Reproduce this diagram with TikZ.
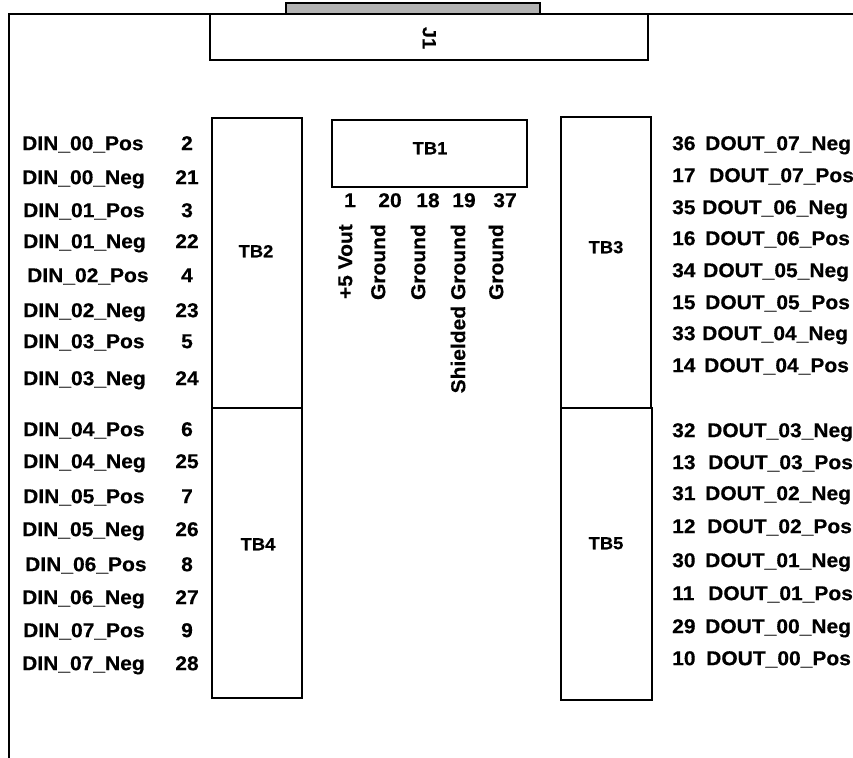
\documentclass[tikz,border=0pt]{standalone}
\usepackage{fontspec}
\setmainfont{Liberation Sans}[FakeStretch=1.05]
\newfontfamily\heavy{Liberation Sans Bold}[FakeStretch=1.05, FakeBold=0.4]
\begin{document}
\begin{tikzpicture}[x=1pt,y=-1pt,
  box/.style={draw, line width=1.3pt, inner sep=0pt, outer sep=0pt, anchor=north west},
  lbl/.style={inner sep=0pt, font=\heavy\fontsize{20}{22}\selectfont, text height=14.3pt, text depth=0pt},
  tbl/.style={inner sep=0pt, font=\heavy\fontsize{17.5}{19}\selectfont, text height=12.5pt, text depth=0pt},
]
\useasboundingbox (0,0) rectangle (853,757);
% frame
\coordinate (fr1) at (853,14);
\coordinate (fr2) at (9,14);
\coordinate (fr3) at (9,760);
\draw[line width=1.3pt] (fr1) -- (fr2) -- (fr3);
% connector and boxes
\node[box, fill=black!30, minimum width=254pt, minimum height=11pt] (gray) at (286,3) {};
\node[box, minimum width=438pt, minimum height=46pt] (j1) at (210,14) {};
\node[tbl, rotate=-90, font=\heavy\fontsize{19}{21}\selectfont] (j1t) at (429,38) {J1};
\node[box, minimum width=195pt, minimum height=67pt] (tb1) at (332,120) {};
\node[tbl] (tb1t) at (430,148) {TB1};
\node[box, minimum width=90pt, minimum height=290pt] (tb2) at (212,118) {};
\node[tbl] (tb2t) at (256,251) {TB2};
\node[box, minimum width=90pt, minimum height=290pt] (tb4) at (212,408) {};
\node[tbl] (tb4t) at (258,544) {TB4};
\node[box, minimum width=90pt, minimum height=291pt] (tb3) at (561,117) {};
\node[tbl] (tb3t) at (606,247) {TB3};
\node[box, minimum width=91pt, minimum height=292pt] (tb5) at (561,408) {};
\node[tbl] (tb5t) at (606,543) {TB5};
% TB1 pins
\node[lbl] (p1) at (350,200) {1};
\node[lbl] (p20) at (390,200) {20};
\node[lbl] (p18) at (428,200) {18};
\node[lbl] (p19) at (464,200) {19};
\node[lbl] (p37) at (505,200) {37};
\node[lbl, rotate=90, anchor=east] (s1) at (345,224) {+5 Vout};
\node[lbl, rotate=90, anchor=east] (s20) at (378,224) {Ground};
\node[lbl, rotate=90, anchor=east] (s18) at (418,224) {Ground};
\node[lbl, rotate=90, anchor=east] (s19) at (458,224) {Shielded Ground};
\node[lbl, rotate=90, anchor=east] (s37) at (496,224) {Ground};
% left labels
\foreach \n/\x/\y/\t/\p in {a/22/143/DIN\_00\_Pos/2, b/22/177/DIN\_00\_Neg/21, c/23/210/DIN\_01\_Pos/3, d/23/241/DIN\_01\_Neg/22,
  e/27/275/DIN\_02\_Pos/4, f/23/310/DIN\_02\_Neg/23, g/23/341/DIN\_03\_Pos/5, h/23/378/DIN\_03\_Neg/24,
  i/23/429/DIN\_04\_Pos/6, j/23/461/DIN\_04\_Neg/25, k/23/496/DIN\_05\_Pos/7, l/22/529/DIN\_05\_Neg/26,
  m/25/564/DIN\_06\_Pos/8, n/22/597/DIN\_06\_Neg/27, o/23/630/DIN\_07\_Pos/9, p/22/663/DIN\_07\_Neg/28}
{
  \node[lbl, anchor=west] (L\n) at (\x,\y) {\t};
  \node[lbl] (N\n) at (187,\y) {\p};
}
% right labels
\foreach \n/\x/\y/\t/\p in {a/705/143/DOUT\_07\_Neg/36, b/709/175/DOUT\_07\_Pos/17, c/702/207/DOUT\_06\_Neg/35, d/705/238/DOUT\_06\_Pos/16,
  e/703/270/DOUT\_05\_Neg/34, f/705/302/DOUT\_05\_Pos/15, g/702/333/DOUT\_04\_Neg/33, h/704/365/DOUT\_04\_Pos/14,
  i/707/430/DOUT\_03\_Neg/32, j/708/462/DOUT\_03\_Pos/13, k/705/493/DOUT\_02\_Neg/31, l/707/526/DOUT\_02\_Pos/12,
  m/705/560/DOUT\_01\_Neg/30, n/708/593/DOUT\_01\_Pos/11, o/705/626/DOUT\_00\_Neg/29, p/706/658/DOUT\_00\_Pos/10}
{
  \node[lbl, anchor=west] (R\n) at (\x,\y) {\t};
  \node[lbl, anchor=west] (M\n) at (672,\y) {\p};
}
\end{tikzpicture}
\end{document}
